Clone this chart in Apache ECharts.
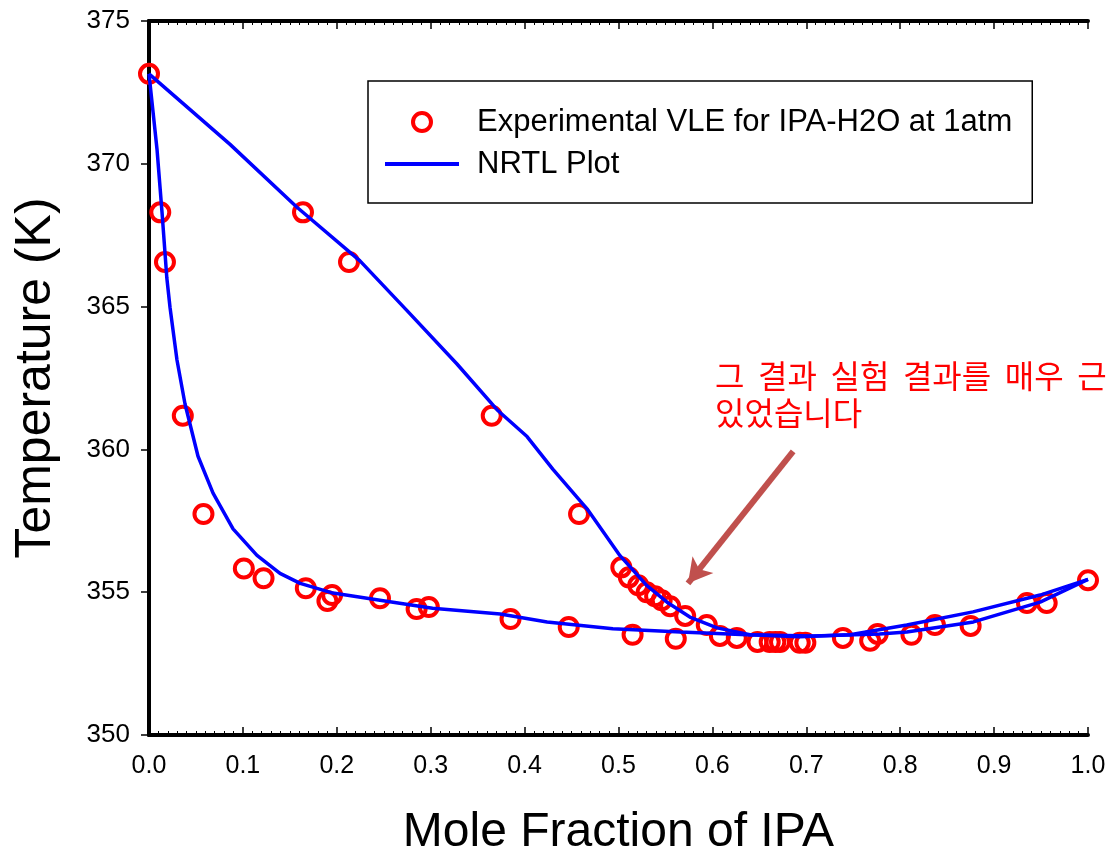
<!DOCTYPE html>
<html>
<head>
<meta charset="utf-8">
<script src="https://cdn.jsdelivr.net/npm/echarts@6/dist/echarts.min.js"></script>
<style>
  html, body { margin: 0; padding: 0; background: #fff; }
  #main { width: 1112px; height: 862px; }
</style>
</head>
<body>
<div id="main"></div>
<script>
// experimental points (liquid side and vapour side)
const liquidX = [0.0, 0.012, 0.017, 0.036, 0.058, 0.101, 0.122, 0.167, 0.190, 0.195, 0.246, 0.285, 0.298, 0.385, 0.447, 0.515, 0.561, 0.608, 0.626, 0.648, 0.661, 0.667, 0.672, 0.693, 0.699, 0.739, 0.768, 0.776, 0.812, 0.837, 0.875, 0.935, 0.956, 1.0]
const liquidT = [373.15, 368.30, 366.56, 361.18, 357.74, 355.83, 355.49, 355.14, 354.69, 354.90, 354.79, 354.41, 354.48, 354.06, 353.78, 353.51, 353.37, 353.47, 353.40, 353.26, 353.26, 353.26, 353.26, 353.23, 353.23, 353.40, 353.30, 353.54, 353.51, 353.85, 353.82, 354.62, 354.62, 355.42]
const vaporY = [0.164, 0.213, 0.365, 0.458, 0.503, 0.511, 0.521, 0.530, 0.539, 0.546, 0.555, 0.571, 0.594]
const vaporT = [368.30, 366.56, 361.18, 357.74, 355.87, 355.52, 355.24, 355.00, 354.86, 354.72, 354.51, 354.17, 353.85]

// NRTL curves
const bubbleX = [0.0, 0.0085, 0.0138, 0.019, 0.0224, 0.0298, 0.0383, 0.0522, 0.0682, 0.0895, 0.115, 0.1395, 0.161, 0.196, 0.246, 0.302, 0.374, 0.424, 0.494, 0.566, 0.637, 0.707, 0.778, 0.807, 0.878, 0.949, 1.0]
const bubbleT = [373.15, 370.52, 368.33, 366.00, 364.97, 363.13, 361.60, 359.76, 358.47, 357.22, 356.29, 355.66, 355.31, 354.97, 354.72, 354.44, 354.24, 353.96, 353.72, 353.61, 353.51, 353.47, 353.54, 353.61, 353.96, 354.65, 355.45]
const dewX = [0.0, 0.0863, 0.1576, 0.2247, 0.2748, 0.328, 0.3706, 0.4026, 0.430, 0.4665, 0.5016, 0.530, 0.5517, 0.576, 0.605, 0.640, 0.693, 0.7465, 0.807, 0.8775, 0.949, 1.0]
const dewT = [373.15, 370.68, 368.48, 366.60, 364.86, 362.99, 361.39, 360.45, 359.31, 357.92, 356.28, 355.24, 354.65, 354.13, 353.75, 353.51, 353.44, 353.51, 353.85, 354.31, 354.90, 355.45]

// arrow of the note: tail and head in data units
const arrowFrom = [0.686, 359.93]
const arrowTo = [0.574, 355.31]

const expName = 'Experimental VLE for IPA-H2O at 1atm'
const fitName = 'NRTL Plot'

function pairs(xs, ys) {
  return xs.map((x, i) => [x, ys[i]])
}

const font = '"Liberation Sans", Arial, sans-serif'

let chart = echarts.init(document.getElementById('main'))

let curve = {
  name: fitName,
  type: 'line',
  symbol: 'none',
  smooth: false,
  z: 3,
  lineStyle: { color: '#0000ff', width: 3.5 },
  itemStyle: { color: '#0000ff' }
}

let option = {
  animation: false,
  backgroundColor: '#fff',
  grid: { left: 149, right: 24, top: 21, bottom: 110 },
  legend: {
    orient: 'vertical',
    left: 368,
    top: 81,
    itemWidth: 74,
    itemHeight: 18,
    itemGap: 6,
    padding: [23, 20, 21, 17],
    borderColor: '#000',
    borderWidth: 1.5,
    backgroundColor: '#fff',
    data: [
      { name: expName, icon: 'circle', itemStyle: { color: 'rgba(255,255,255,0)', borderColor: '#ff0000', borderWidth: 4, opacity: 1 } },
      { name: fitName, icon: 'path://M0,0 L74,0 L74,4 L0,4 Z', itemStyle: { color: '#0000ff', borderWidth: 0 } }
    ],
    textStyle: { fontSize: 31, fontFamily: font, color: '#000', lineHeight: 36, padding: [0, 0, 0, 13] }
  },
  xAxis: [{
    type: 'value',
    min: 0, max: 1, interval: 0.1,
    name: 'Mole Fraction of IPA',
    nameLocation: 'middle',
    nameGap: 74,
    nameTextStyle: { fontSize: 48, fontFamily: font, color: '#000' },
    axisLine: { lineStyle: { color: '#000', width: 4 } },
    axisTick: { inside: true, length: 8, lineStyle: { color: '#000', width: 1.5 } },
    minorTick: { show: true, splitNumber: 10, length: 4, lineStyle: { color: '#000', width: 1 } },
    splitLine: { show: false },
    axisLabel: { fontSize: 25, fontFamily: font, color: '#000', margin: 19, formatter: v => v.toFixed(1) }
  }, {
    type: 'value',
    position: 'top',
    min: 0, max: 1, interval: 0.1,
    axisLine: { lineStyle: { color: '#000', width: 4 } },
    axisTick: { inside: true, length: 8, lineStyle: { color: '#000', width: 1.5 } },
    minorTick: { show: true, splitNumber: 10, length: 4, lineStyle: { color: '#000', width: 1 } },
    splitLine: { show: false },
    axisLabel: { show: false }
  }],
  yAxis: [{
    type: 'value',
    min: 350, max: 375, interval: 5,
    name: 'Temperature (K)',
    nameLocation: 'middle',
    nameGap: 88,
    nameTextStyle: { fontSize: 50, fontFamily: font, color: '#000' },
    axisLine: { show: true, lineStyle: { color: '#000', width: 4 } },
    axisTick: { show: true, length: 8, lineStyle: { color: '#000', width: 1.5 } },
    splitLine: { show: false },
    axisLabel: { fontSize: 26, fontFamily: font, color: '#000', margin: 19 }
  }, {
    type: 'value',
    position: 'right',
    min: 350, max: 375, interval: 5,
    axisLine: { show: true, lineStyle: { color: '#000', width: 4 } },
    axisTick: { show: false },
    splitLine: { show: false },
    axisLabel: { show: false }
  }],
  series: [{
    name: expName,
    type: 'scatter',
    symbol: 'circle',
    symbolSize: 18,
    z: 2,
    itemStyle: { color: 'rgba(255,255,255,0)', borderColor: '#ff0000', borderWidth: 4, opacity: 1 },
    data: pairs(liquidX, liquidT).concat(pairs(vaporY, vaporT)),
    markLine: {
      silent: true,
      symbol: ['none', 'arrow'],
      symbolSize: [20, 24],
      label: { show: false },
      lineStyle: { color: '#c0504d', width: 6, type: 'solid', opacity: 1 },
      data: [[{ coord: arrowFrom }, { coord: arrowTo }]]
    }
  },
  Object.assign({}, curve, { data: pairs(bubbleX, bubbleT) }),
  Object.assign({}, curve, { data: pairs(dewX, dewT) })
  ],
  graphic: [{
    type: 'rect',
    z: 100,
    shape: { x: 705, y: 343, width: 420, height: 98 },
    style: { fill: '#fff' }
  }, {
    type: 'text',
    z: 101,
    x: 715,
    y: 357,
    style: {
      text: '그 \u2009결과 \u2009실험 \u2009결과를 \u2009매우 \u2009근\n있었습니다',
      fill: '#ff0000',
      font: '32px "Noto Sans CJK KR"',
      lineHeight: 37
    }
  }]
}

chart.setOption(option)
</script>
</body>
</html>
